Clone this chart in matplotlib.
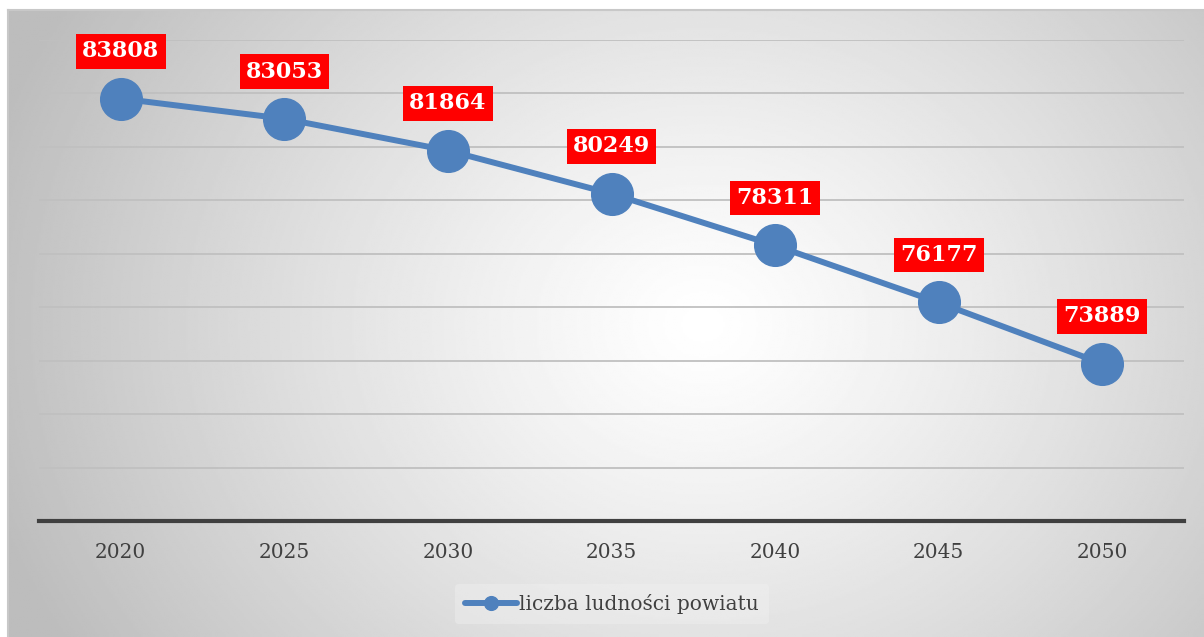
import matplotlib.pyplot as plt
import numpy as np


YEARS      = ["2020", "2025", "2030", "2035", "2040", "2045", "2050"]
POPULATION = [83808, 83053, 81864, 80249, 78311, 76177, 73889]
SERIES     = "liczba ludności powiatu"

LINE_COL  = "#4f81bd"
LABEL_COL = "#ff0000"
TEXT_COL  = "#404040"
FW, FH    = 1204, 637


def radial_background(fig):
    bg = fig.add_axes([8 / FW, 0, (FW - 8) / FW, (FH - 10) / FH], zorder=-10)
    h, w = 300, 600
    yy, xx = np.mgrid[0:h, 0:w]
    cx, cy = 0.58 * w, 0.50 * h
    r = np.sqrt(((xx - cx) / (0.62 * w)) ** 2 + ((yy - cy) / (1.0 * h)) ** 2)
    r = np.clip(r, 0, 1)
    shade = 1.0 - 0.26 * r ** 1.2
    bg.imshow(shade, cmap="gray", vmin=0, vmax=1, aspect="auto",
              extent=[0, 1, 0, 1], interpolation="bilinear")
    bg.set_xlim(0, 1)
    bg.set_ylim(0, 1)
    for side in ["top", "left"]:
        bg.spines[side].set_color("#c8c8c8")
        bg.spines[side].set_linewidth(1.5)
    for side in ["bottom", "right"]:
        bg.spines[side].set_visible(False)
    bg.set_xticks([])
    bg.set_yticks([])


def main():
    plt.rcParams["font.family"] = ["DejaVu Serif"]
    fig = plt.figure(figsize=(FW / 100, FH / 100), dpi=100)
    radial_background(fig)

    ax = fig.add_axes([39 / FW, (FH - 521) / FH, (1184 - 39) / FW, (521 - 40) / FH])
    ax.patch.set_alpha(0)

    x = np.arange(len(YEARS))
    ax.plot(x, POPULATION, color=LINE_COL, linewidth=4.3, marker="o",
            markersize=30, label=SERIES, zorder=3, solid_capstyle="round")

    for xi, val in zip(x, POPULATION):
        ax.annotate(
            str(val), (xi, val), xytext=(0, 34), textcoords="offset points",
            ha="center", va="center", fontsize=16, fontweight="bold",
            color="white",
            bbox=dict(boxstyle="square,pad=0.28", facecolor=LABEL_COL,
                      edgecolor="none"),
            zorder=4,
        )

    ax.set_xlim(-0.5, len(YEARS) - 0.5)
    ax.set_ylim(68000, 86000)
    ax.set_yticks(np.arange(68000, 86001, 2000))
    ax.set_yticklabels([])
    ax.tick_params(axis="y", length=0)
    ax.grid(axis="y", color="#c0c0c0", linewidth=1.3)
    ax.set_axisbelow(True)

    ax.set_xticks(x)
    ax.set_xticklabels(YEARS, fontsize=14.5, color=TEXT_COL)
    ax.tick_params(axis="x", length=0, pad=16)

    for side in ["top", "left", "right"]:
        ax.spines[side].set_visible(False)
    ax.spines["bottom"].set_color(TEXT_COL)
    ax.spines["bottom"].set_linewidth(3)

    leg = fig.legend(
        loc="center", bbox_to_anchor=(612 / FW, 1 - 604 / FH),
        frameon=True, fontsize=14.5, markerscale=0.33, handlelength=2.6,
        handletextpad=0.1, borderpad=0.5,
    )
    leg.get_frame().set_facecolor("#f2f2f2")
    leg.get_frame().set_alpha(0.4)
    leg.get_frame().set_edgecolor("none")
    for text in leg.get_texts():
        text.set_color(TEXT_COL)

    fig.savefig("out.png", dpi=100, facecolor="white")
    plt.close(fig)


if __name__ == "__main__":
    main()
